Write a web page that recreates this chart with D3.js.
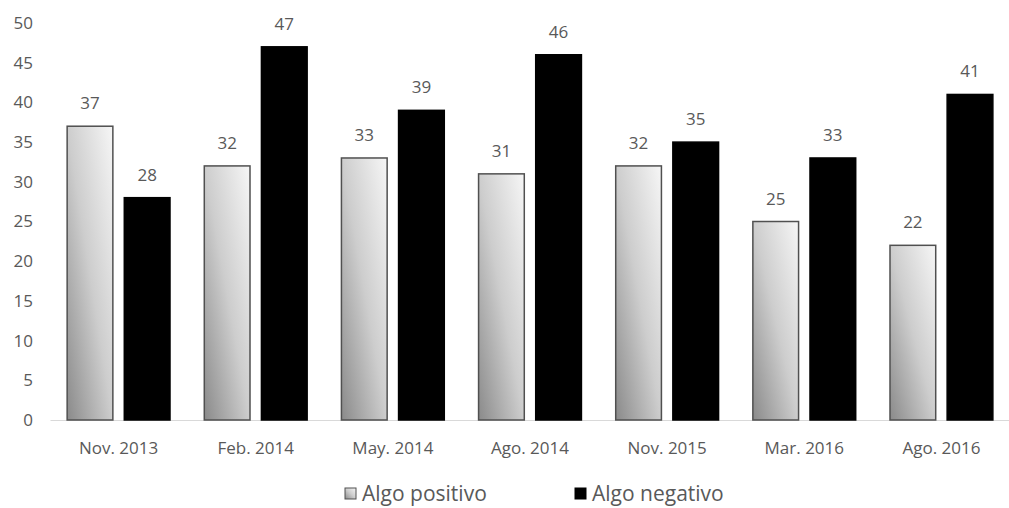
<!DOCTYPE html>
<html>
<head>
<meta charset="utf-8">
<script src="https://cdn.jsdelivr.net/npm/d3@7"></script>
<style>
  body { margin: 0; background: #fff; }
  text { font-family: "Open Sans", "DejaVu Sans", sans-serif; fill: #595959; }
</style>
</head>
<body>
<div id="chart-area"></div>
<script>
// data
const categories = ["Nov. 2013", "Feb. 2014", "May. 2014", "Ago. 2014", "Nov. 2015", "Mar. 2016", "Ago. 2016"];
const seriesNames = ["Algo positivo", "Algo negativo"];
const positivo = [37, 32, 33, 31, 32, 25, 22];
const negativo = [28, 47, 39, 46, 35, 33, 41];
const yTicks = [0, 5, 10, 15, 20, 25, 30, 35, 40, 45, 50];

const W = 1009, H = 508;
const MARGIN = { LEFT: 50, RIGHT: -1, TOP: 23, BOTTOM: 88 };
const WIDTH = W - MARGIN.LEFT - MARGIN.RIGHT;
const HEIGHT = H - MARGIN.TOP - MARGIN.BOTTOM;

const svg = d3.select("#chart-area").append("svg")
  .attr("width", W)
  .attr("height", H);

// diagonal gradient for the light bars (dark bottom-left -> light top-right)
const defs = svg.append("defs");
const grad = defs.append("linearGradient")
  .attr("id", "lightGrad")
  .attr("x1", 0).attr("y1", 1)
  .attr("x2", 1).attr("y2", 0);
grad.append("stop").attr("offset", "0%").attr("stop-color", "#8a8a8a");
grad.append("stop").attr("offset", "50%").attr("stop-color", "#cdcdcd");
grad.append("stop").attr("offset", "100%").attr("stop-color", "#f6f6f6");

const g = svg.append("g")
  .attr("transform", `translate(${MARGIN.LEFT}, ${MARGIN.TOP})`);

const data = categories.map((c, i) => ({ cat: c, values: [positivo[i], negativo[i]] }));

const x0 = d3.scaleBand()
  .domain(categories)
  .range([0, WIDTH])
  .paddingInner(0.25)
  .paddingOuter(0.125);

const x1 = d3.scaleBand()
  .domain([0, 1])
  .range([0, x0.bandwidth()])
  .paddingInner(0.2);

const y = d3.scaleLinear()
  .domain([0, 50])
  .range([HEIGHT, 0]);

// y axis labels
const yAxisCall = d3.axisLeft(y).tickValues(yTicks).tickSize(0).tickPadding(17);
const yAxis = g.append("g").call(yAxisCall);
yAxis.select(".domain").remove();
yAxis.selectAll("text")
  .attr("font-size", "17px")
  .attr("font-family", "Open Sans, sans-serif")
  .attr("fill", "#595959");

// x axis
const xAxisCall = d3.axisBottom(x0).tickSize(0).tickPadding(22);
const xAxis = g.append("g")
  .attr("transform", `translate(0, ${HEIGHT})`)
  .call(xAxisCall);
xAxis.select(".domain").attr("stroke", "#d9d9d9").attr("stroke-width", 1);
xAxis.selectAll("text")
  .attr("font-size", "17px")
  .attr("font-family", "Open Sans, sans-serif")
  .attr("fill", "#595959");

// bars
const groups = g.selectAll(".grp").data(data)
  .enter().append("g")
  .attr("class", "grp")
  .attr("transform", d => `translate(${x0(d.cat)}, 0)`);

groups.selectAll("rect")
  .data(d => d.values.map((v, k) => ({ v, k })))
  .enter().append("rect")
  .attr("x", d => x1(d.k))
  .attr("y", d => y(d.v))
  .attr("width", x1.bandwidth())
  .attr("height", d => HEIGHT - y(d.v))
  .attr("fill", d => d.k === 0 ? "url(#lightGrad)" : "#000")
  .attr("stroke", d => d.k === 0 ? "#505050" : "#000")
  .attr("stroke-width", 1.5);

groups.selectAll(".lbl")
  .data(d => d.values.map((v, k) => ({ v, k })))
  .enter().append("text")
  .attr("class", "lbl")
  .attr("x", d => x1(d.k) + x1.bandwidth() / 2)
  .attr("y", d => y(d.v) - 17)
  .attr("text-anchor", "middle")
  .attr("font-size", "17px")
  .text(d => d.v);

// legend
const legend = svg.append("g").attr("transform", "translate(0, 493)");
const legX = [345, 575];
seriesNames.forEach((name, i) => {
  legend.append("rect")
    .attr("x", legX[i])
    .attr("y", -5)
    .attr("width", 11)
    .attr("height", 11)
    .attr("fill", i === 0 ? "url(#lightGrad)" : "#000")
    .attr("stroke", i === 0 ? "#505050" : "#000")
    .attr("stroke-width", 1);
  legend.append("text")
    .attr("x", legX[i] + 17)
    .attr("y", 8)
    .attr("font-size", "21px")
    .text(name);
});
</script>
</body>
</html>
